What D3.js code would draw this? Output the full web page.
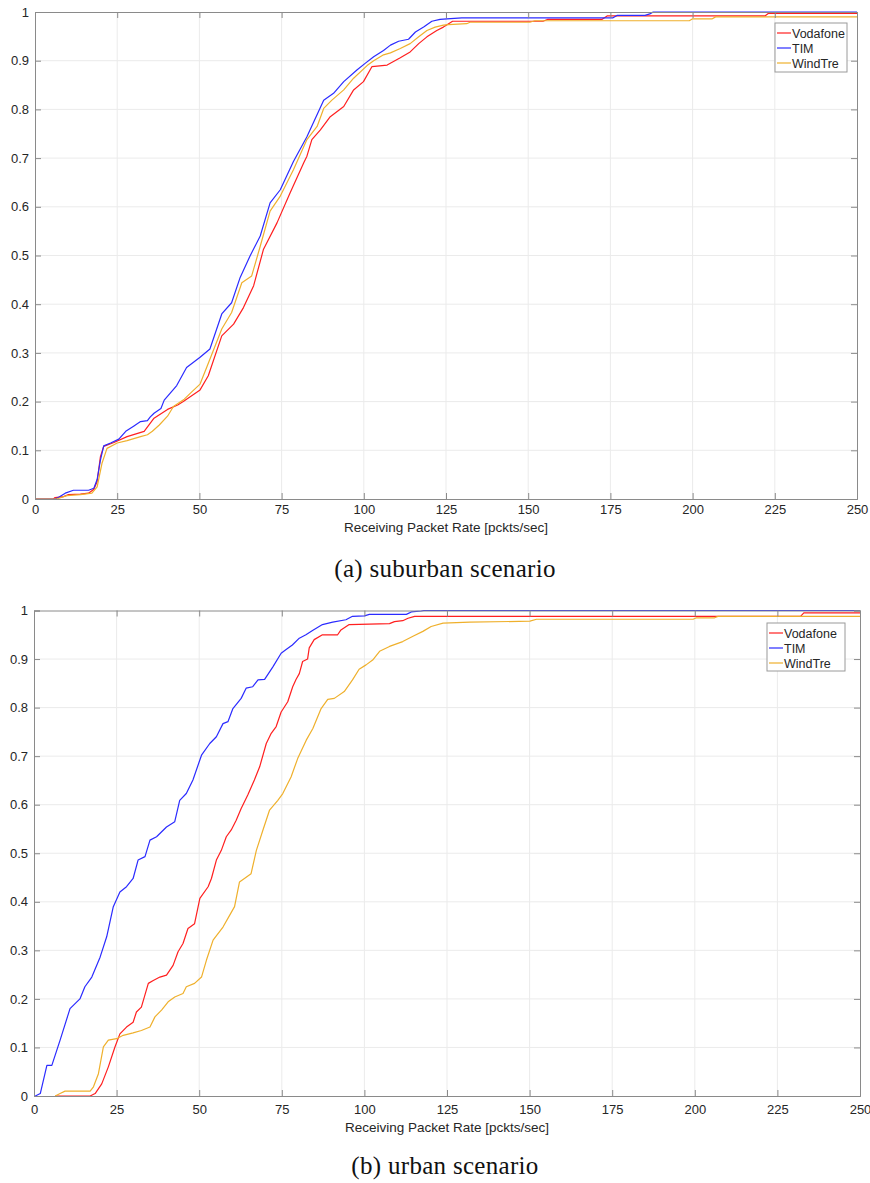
<!DOCTYPE html>
<html>
<head>
<meta charset="utf-8">
<script src="https://cdn.jsdelivr.net/npm/d3@7/dist/d3.min.js"></script>
<style>
body { margin: 0; background: #fff; }
text { font-family: "Liberation Sans", Arial, sans-serif; }
</style>
</head>
<body>
<div id="chart"></div>
<script>
// operators and tick values
var operators = ["Vodafone", "TIM", "WindTre"];
var xTicks = [0, 25, 50, 75, 100, 125, 150, 175, 200, 225, 250];
var yTicks = [0, 0.1, 0.2, 0.3, 0.4, 0.5, 0.6, 0.7, 0.8, 0.9, 1];
var xLabel = "Receiving Packet Rate [pckts/sec]";
var captions = ["(a) suburban scenario", "(b) urban scenario"];

// CDF points [packet rate, probability] - suburban
var suburbanVodafone = [[0,0],[5.6,0],[6.1,0.003],[8.7,0.005],[10.2,0.009],[13.8,0.01],[16.3,0.012],[17.9,0.02],[18.9,0.036],[19.9,0.087],[20.9,0.108],[24,0.116],[28,0.128],[33.2,0.139],[36.2,0.166],[40.3,0.184],[43.4,0.193],[45.1,0.2],[50.2,0.224],[52.7,0.253],[56.8,0.335],[60.4,0.359],[63.4,0.393],[66.5,0.438],[69.5,0.513],[73.6,0.567],[77.6,0.629],[81.7,0.69],[82.7,0.704],[84.2,0.738],[86.8,0.758],[89.8,0.785],[93.9,0.806],[96.9,0.84],[99.9,0.857],[102.5,0.888],[107.1,0.891],[111.1,0.906],[114.1,0.918],[116.7,0.935],[119.2,0.949],[122.2,0.962],[124.2,0.969],[125.8,0.976],[127,0.981],[154.5,0.981],[156,0.985],[172.5,0.985],[174,0.992],[222,0.992],[223,0.997],[250,0.997]];
var suburbanTIM = [[0,0],[6.1,0],[7.1,0.003],[9.2,0.012],[11.7,0.018],[16.3,0.018],[17.9,0.022],[18.9,0.04],[19.9,0.08],[20.9,0.109],[23,0.115],[25.5,0.123],[27.6,0.139],[30.1,0.15],[32.1,0.159],[34.2,0.161],[35,0.168],[36.2,0.176],[38.3,0.186],[39.3,0.203],[43.1,0.233],[46.1,0.27],[50.2,0.291],[53.2,0.308],[56.8,0.38],[59.8,0.403],[62.4,0.455],[65.4,0.499],[68.5,0.54],[71.5,0.608],[74.6,0.635],[78.6,0.693],[82.7,0.744],[87.8,0.819],[90.8,0.833],[93.9,0.857],[97.9,0.881],[100.5,0.895],[103,0.908],[106,0.921],[108.1,0.932],[110.6,0.94],[113.6,0.944],[115.7,0.959],[118.2,0.969],[120.7,0.981],[123.2,0.985],[125.3,0.986],[129.8,0.988],[175.8,0.988],[177,0.993],[185.5,0.993],[187,0.996],[188,1],[250,1]];
var suburbanWindTre = [[0,0],[6.6,0],[9.7,0.007],[13.8,0.009],[17.3,0.012],[18.9,0.025],[20.4,0.074],[21.9,0.104],[25,0.115],[28,0.12],[32.1,0.128],[34.2,0.132],[35.7,0.139],[37.8,0.152],[40.3,0.17],[42.1,0.19],[45.4,0.205],[48,0.222],[50.2,0.236],[52.2,0.27],[56.8,0.349],[59.8,0.383],[62.9,0.444],[65.9,0.458],[68.5,0.519],[71.5,0.591],[74.6,0.622],[78.6,0.676],[82.7,0.738],[85.8,0.765],[87.8,0.802],[90.3,0.819],[93.9,0.84],[96.9,0.864],[101,0.89],[103,0.9],[106,0.912],[108.1,0.916],[111.1,0.925],[114.1,0.935],[116.7,0.949],[119.2,0.962],[121.7,0.969],[124.2,0.973],[125.8,0.974],[131.3,0.976],[132.3,0.979],[150.5,0.979],[152,0.982],[199,0.982],[200,0.986],[206,0.986],[207,0.99],[250,0.99]];

// urban
var urbanVodafone = [[6.4,0],[17,0],[18.5,0.005],[20.5,0.025],[22.5,0.06],[24.5,0.101],[26,0.128],[28,0.142],[30,0.152],[31,0.173],[32.5,0.183],[34.6,0.232],[36.1,0.238],[38.1,0.245],[40.1,0.249],[42.1,0.269],[43.6,0.297],[45.1,0.314],[46.6,0.345],[48.6,0.355],[50.2,0.407],[52.7,0.431],[53.7,0.448],[55.2,0.486],[56.7,0.506],[58.2,0.534],[59.7,0.548],[61.2,0.568],[62.7,0.592],[64.7,0.62],[66.7,0.651],[68.3,0.678],[70.3,0.726],[71.8,0.747],[73.3,0.761],[74.8,0.791],[76.8,0.812],[78.3,0.843],[79.3,0.858],[80.3,0.87],[81.3,0.895],[82.8,0.9],[83.3,0.923],[84.8,0.94],[87.3,0.95],[91.9,0.95],[92.9,0.96],[95.4,0.971],[107.6,0.973],[109.1,0.977],[111.6,0.979],[113.2,0.984],[115.2,0.988],[232,0.988],[233,0.995],[250,0.995]];
var urbanTIM = [[0,0],[0.4,0],[1.9,0.005],[3.9,0.063],[5.4,0.063],[7.9,0.115],[10.9,0.18],[13.9,0.2],[15.4,0.225],[17.5,0.245],[20,0.286],[22,0.328],[24,0.39],[26,0.42],[28,0.431],[30,0.448],[31.5,0.486],[33.6,0.493],[35.1,0.527],[37.1,0.534],[40.1,0.554],[42.6,0.565],[44.1,0.609],[46.1,0.623],[48.1,0.651],[50.7,0.702],[53.2,0.726],[55.2,0.74],[57.2,0.767],[58.7,0.771],[60.2,0.798],[62.7,0.819],[64.2,0.84],[66.2,0.843],[67.8,0.857],[69.8,0.858],[72.3,0.884],[74.8,0.912],[76.2,0.919],[78.2,0.929],[80.3,0.943],[82.3,0.95],[84.3,0.959],[87.3,0.971],[90.4,0.976],[94.4,0.981],[96.4,0.988],[100,0.989],[101.5,0.992],[112.7,0.992],[114.2,0.997],[117.2,0.999],[118,1],[250,1]];
var urbanWindTre = [[6.4,0],[7.9,0.005],[9.4,0.01],[17,0.01],[18,0.019],[19.5,0.046],[21,0.101],[22.5,0.115],[25,0.118],[27,0.125],[30,0.13],[32.5,0.135],[35.1,0.142],[36.6,0.163],[38.6,0.177],[40.6,0.194],[42.6,0.204],[45.1,0.211],[46.1,0.225],[48.6,0.232],[50.7,0.245],[52.2,0.28],[54.2,0.321],[57.2,0.348],[59.2,0.372],[60.7,0.39],[62.2,0.441],[65.7,0.458],[67.3,0.506],[69.3,0.548],[71.3,0.589],[73.8,0.609],[75.3,0.623],[77.8,0.657],[79.8,0.695],[82.4,0.733],[84.4,0.757],[86.9,0.798],[88.9,0.817],[90.9,0.819],[93.9,0.833],[96.4,0.857],[98.4,0.879],[100.5,0.888],[102.5,0.898],[104.6,0.916],[107.6,0.926],[111.6,0.936],[114.7,0.947],[117.7,0.957],[120.2,0.967],[123.8,0.974],[131.9,0.976],[150.1,0.978],[152.1,0.982],[199.5,0.982],[200.5,0.985],[206,0.985],[207,0.988],[250,0.988]];

var colors = ["#ff1f1f", "#2b2bff", "#efb02c"];

var width = 870, height = 1183;
var svg = d3.select("#chart").append("svg")
  .attr("width", width)
  .attr("height", height);

// panel boxes (pixel frame of each axes)
var panels = [
  {left: 35, right: 857, top: 12, bottom: 499, tickPad: 6, labelY: 532, captionY: 577,
   legend: {x: 775, y: 23, w: 72, h: 49}, caption: captions[0],
   series: [suburbanVodafone, suburbanTIM, suburbanWindTre]},
  {left: 34, right: 860, top: 610.5, bottom: 1096, tickPad: 9, labelY: 1132, captionY: 1174,
   legend: {x: 767, y: 623, w: 78, h: 48}, caption: captions[1],
   series: [urbanVodafone, urbanTIM, urbanWindTre]}
];

panels.forEach(drawPanel);

function drawPanel(p) {
  var x = d3.scaleLinear().domain([0, 250]).range([p.left, p.right]);
  var y = d3.scaleLinear().domain([0, 1]).range([p.bottom, p.top]);
  var g = svg.append("g");

  // grid
  g.append("g").selectAll("line.gx")
    .data(xTicks.slice(1, -1))
    .enter().append("line")
    .attr("x1", function(d) { return x(d); })
    .attr("x2", function(d) { return x(d); })
    .attr("y1", p.top).attr("y2", p.bottom)
    .attr("stroke", "#ebebeb").attr("stroke-width", 1);
  g.append("g").selectAll("line.gy")
    .data(yTicks.slice(1, -1))
    .enter().append("line")
    .attr("y1", function(d) { return y(d); })
    .attr("y2", function(d) { return y(d); })
    .attr("x1", p.left).attr("x2", p.right)
    .attr("stroke", "#ebebeb").attr("stroke-width", 1);

  // curves
  var line = d3.line()
    .x(function(d) { return x(d[0]); })
    .y(function(d) { return y(d[1]); });
  p.series.forEach(function(s, i) {
    g.append("path")
      .datum(s)
      .attr("fill", "none")
      .attr("stroke", colors[i])
      .attr("stroke-width", 1.2)
      .attr("stroke-linejoin", "round")
      .attr("d", line);
  });

  // axes (inward ticks, box on)
  var fmt = function(d) { return String(d); };
  var xAxis = g.append("g")
    .attr("transform", "translate(0," + p.bottom + ")")
    .call(d3.axisBottom(x).tickValues(xTicks).tickSize(-6).tickPadding(p.tickPad).tickFormat(fmt));
  var xTop = g.append("g")
    .attr("transform", "translate(0," + p.top + ")")
    .call(d3.axisTop(x).tickValues(xTicks).tickSize(-6).tickFormat(""));
  var yAxis = g.append("g")
    .attr("transform", "translate(" + p.left + ",0)")
    .call(d3.axisLeft(y).tickValues(yTicks).tickSize(-6).tickPadding(6).tickFormat(fmt));
  var yRight = g.append("g")
    .attr("transform", "translate(" + p.right + ",0)")
    .call(d3.axisRight(y).tickValues(yTicks).tickSize(-6).tickFormat(""));

  [xAxis, xTop, yAxis, yRight].forEach(function(a) {
    a.selectAll("path.domain").attr("stroke", "#8a8a8a");
    a.selectAll(".tick line").attr("stroke", "#8a8a8a");
    a.selectAll("text")
      .attr("fill", "#262626")
      .style("font-size", "13px")
      .style("font-family", "'Liberation Sans', Arial, sans-serif");
  });

  // x label
  g.append("text")
    .attr("x", (p.left + p.right) / 2)
    .attr("y", p.labelY)
    .attr("text-anchor", "middle")
    .attr("fill", "#262626")
    .style("font-size", "13.5px")
    .text(xLabel);

  // legend
  var lg = g.append("g").attr("transform", "translate(" + p.legend.x + "," + p.legend.y + ")");
  lg.append("rect")
    .attr("width", p.legend.w).attr("height", p.legend.h)
    .attr("fill", "#fff").attr("stroke", "#9a9a9a");
  operators.forEach(function(name, i) {
    var ly = 10 + i * 15;
    lg.append("line")
      .attr("x1", 2).attr("x2", 16)
      .attr("y1", ly).attr("y2", ly)
      .attr("stroke", colors[i]).attr("stroke-width", 1.2);
    lg.append("text")
      .attr("x", 17).attr("y", ly + 4.5)
      .attr("fill", "#262626")
      .style("font-size", "12.5px")
      .text(name);
  });

  // caption below the panel
  svg.append("text")
    .attr("x", 445)
    .attr("y", p.captionY)
    .attr("text-anchor", "middle")
    .attr("fill", "#111")
    .style("font-family", "'Liberation Serif', 'DejaVu Serif', serif")
    .style("font-size", "25px")
    .style("letter-spacing", "0.3px")
    .text(p.caption);
}
</script>
</body>
</html>
